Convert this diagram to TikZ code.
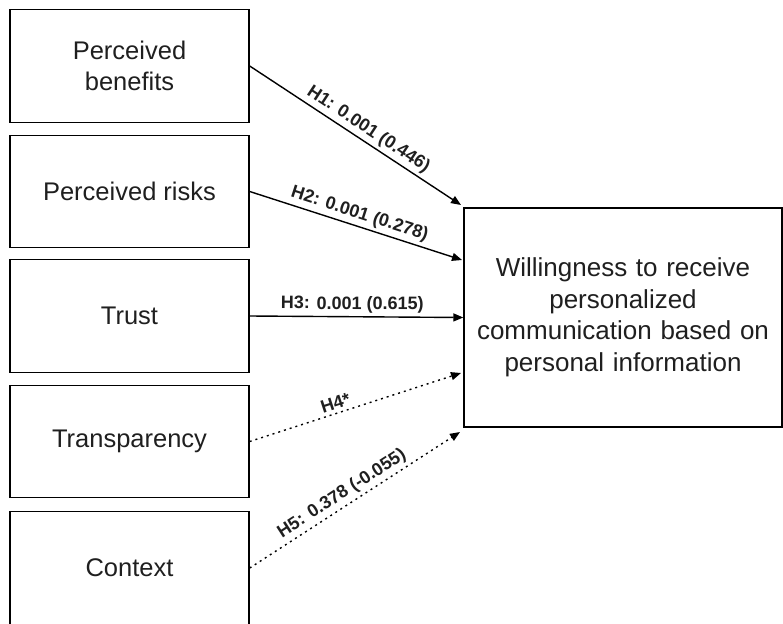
\documentclass[tikz,border=0pt]{standalone}
\usepackage{fontspec}
\setmainfont{Liberation Sans}
\usetikzlibrary{arrows.meta}
\begin{document}
\begin{tikzpicture}[x=1pt,y=-1pt,
  box/.style={draw=black, line width=1.4pt, minimum width=239pt, minimum height=112.5pt,
    inner sep=0pt, align=center, text=black!88, font=\fontsize{25.5}{31}\selectfont},
  bigbox/.style={draw=black, line width=1.4pt, minimum width=318pt, minimum height=219pt,
    inner sep=0pt, align=center, text width=314pt, text=black!88, font=\fontsize{26}{31.5}\selectfont},
  arr/.style={line width=1.4pt, -{Triangle[length=10pt,width=8pt]}},
  dotarr/.style={arr, dash pattern=on 2pt off 4pt},
  lab/.style={font=\fontsize{18}{20}\bfseries\selectfont, text=black!88, sloped, above, inner sep=3pt}]
\useasboundingbox (0,0) rectangle (783,623);
\node[box] (b1) at (129.5,66) {Perceived\\benefits};
\node[box] (b2) at (129.5,191.5) {Perceived risks};
\node[box] (b3) at (129.5,316) {Trust};
\node[box] (b4) at (129.5,441.5) {Transparency};
\node[box] (b5) at (129.5,568) {Context};
\node[bigbox] (w) at (623,317.5) {Willingness to receive\\personalized\\communication based on\\personal information};
\coordinate (e1) at (461,205);
\coordinate (e2) at (462,260);
\coordinate (e3) at (w.west);
\coordinate (e4) at (461,373);
\coordinate (e5) at (460,432);
\draw[arr] (b1.east) -- node[lab,pos=0.53]{H1: 0.001 (0.446)} (e1);
\draw[arr] (b2.east) -- node[lab,pos=0.5]{H2: 0.001 (0.278)} (e2);
\draw[arr] (b3.east) -- node[lab,pos=0.48]{H3: 0.001 (0.615)} (e3);
\draw[dotarr] (b4.east) -- node[lab,pos=0.42]{H4*} (e4);
\draw[dotarr] (b5.east) -- node[lab,pos=0.47]{H5: 0.378 (-0.055)} (e5);
\end{tikzpicture}
\end{document}
